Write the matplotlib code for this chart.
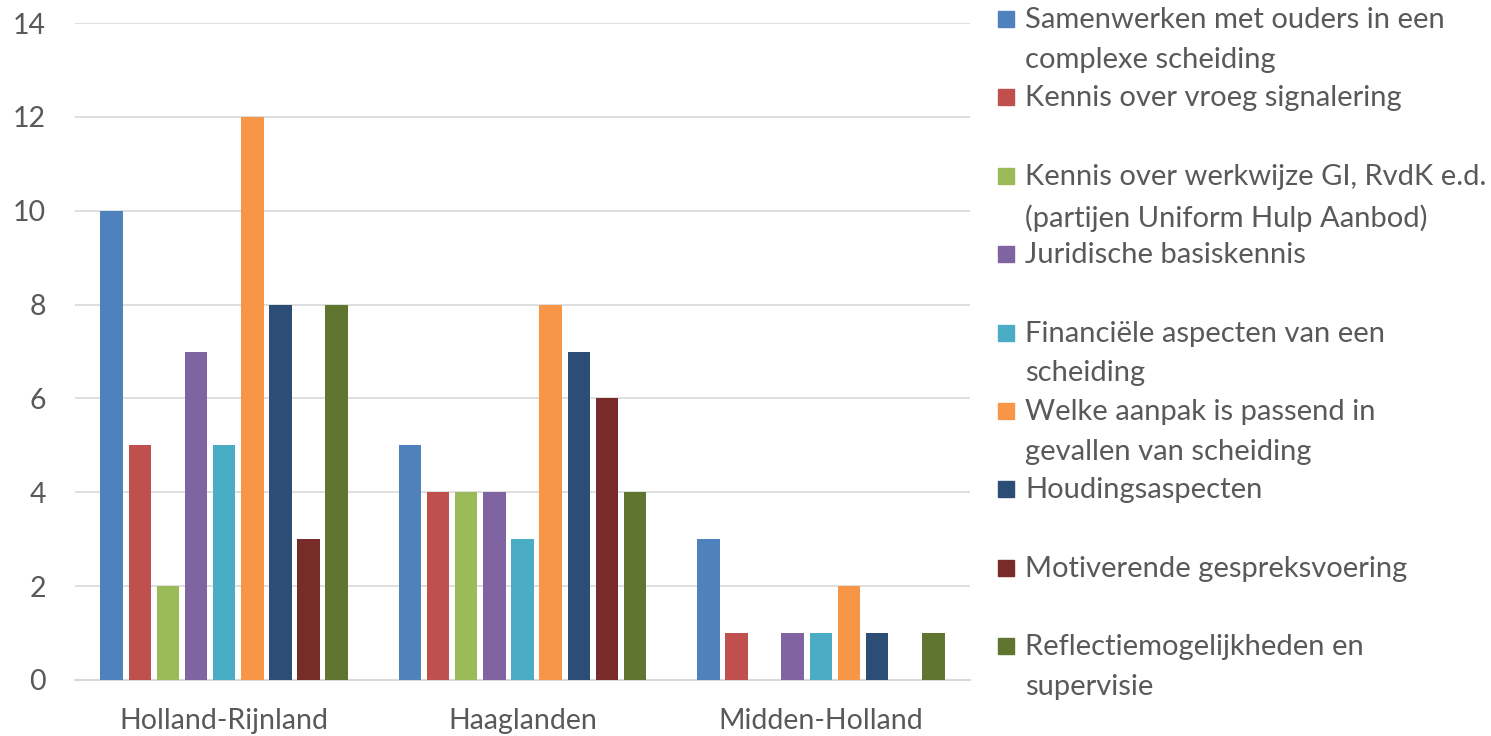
import matplotlib.pyplot as plt
import numpy as np
from matplotlib.patches import Rectangle

plt.rcParams["font.family"] = ["Lato", "DejaVu Sans"]

regions = ["Holland-Rijnland", "Haaglanden", "Midden-Holland"]
labels = [
    "Samenwerken met ouders in een\ncomplexe scheiding",
    "Kennis over vroeg signalering",
    "Kennis over werkwijze GI, RvdK e.d.\n(partijen Uniform Hulp Aanbod)",
    "Juridische basiskennis",
    "Financiële aspecten van een\nscheiding",
    "Welke aanpak is passend in\ngevallen van scheiding",
    "Houdingsaspecten",
    "Motiverende gespreksvoering",
    "Reflectiemogelijkheden en\nsupervisie",
]
values = [
    [10, 5, 3],
    [5, 4, 1],
    [2, 4, 0],
    [7, 4, 1],
    [5, 3, 1],
    [12, 8, 2],
    [8, 7, 1],
    [3, 6, 0],
    [8, 4, 1],
]
colors = ["#4F81BD", "#C0504D", "#9BBB59", "#8064A2", "#4BACC6",
          "#F79646", "#2C4D75", "#772C2A", "#5F7530"]

text_col = "#595959"
fig = plt.figure(figsize=(14.91, 7.36), dpi=100)
ax = fig.add_axes([75 / 1491, 1 - 680 / 736, 895 / 1491, 657 / 736])

x = np.arange(len(regions))
slot = 0.0943
n = len(labels)
for i, (vals, c) in enumerate(zip(values, colors)):
    pos = x + (i - (n - 1) / 2) * slot
    ax.bar(pos, vals, width=slot * 0.8, color=c, zorder=3)

ax.set_xlim(-0.5, 2.5)
ax.set_ylim(0, 14)
ax.set_yticks(range(0, 15, 2))
ax.set_xticks(x)
ax.set_xticklabels(regions)
ax.grid(axis="y", color="#D9D9D9", linewidth=1.2, zorder=0)
for s in ["top", "right", "left"]:
    ax.spines[s].set_visible(False)
ax.spines["bottom"].set_color("#D9D9D9")
ax.spines["bottom"].set_linewidth(1.5)
ax.tick_params(length=0, labelsize=20.5, colors=text_col)
ax.tick_params(axis="x", pad=20)
ax.tick_params(axis="y", pad=21)

# legend, drawn by hand
for i, (lab, c) in enumerate(zip(labels, colors)):
    yc = 19 + i * 78.4
    fig.patches.append(Rectangle((998 / 1491, 1 - (yc + 8) / 736), 16 / 1491, 16 / 736,
                                 transform=fig.transFigure, color=c))
    fig.text(1025 / 1491, 1 - (yc - 12) / 736, lab, fontsize=21, color=text_col,
             va="top", ha="left", linespacing=1.66)

fig.savefig("out.png", dpi=100)
